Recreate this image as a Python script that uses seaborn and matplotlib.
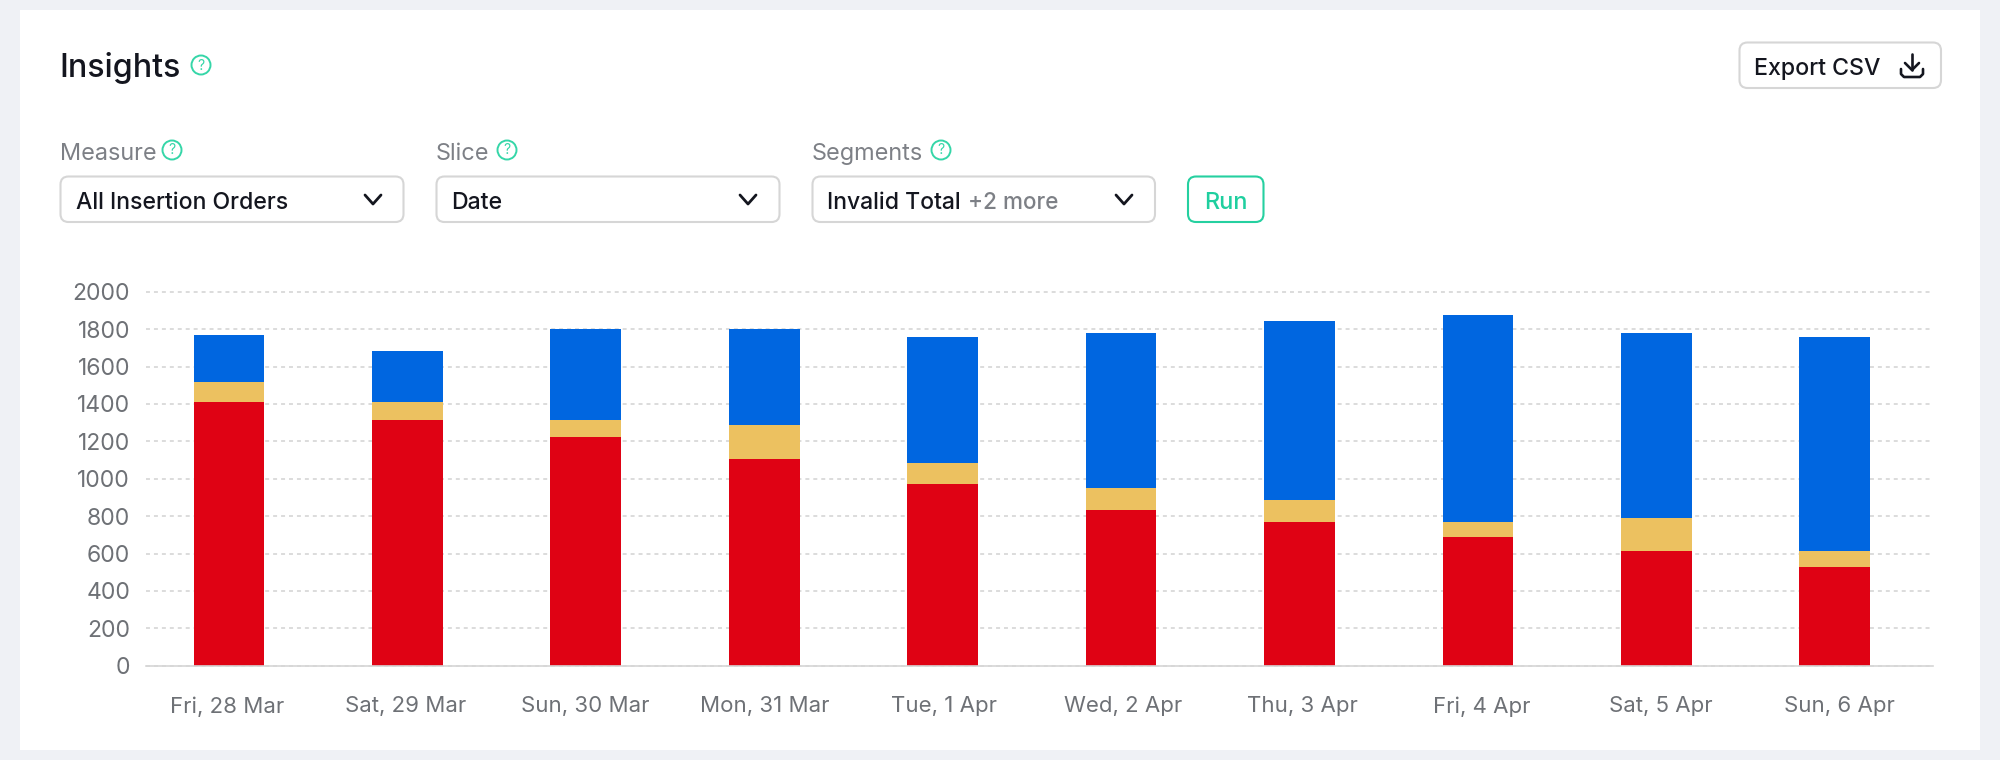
import matplotlib
matplotlib.use('Agg')
import matplotlib.pyplot as plt
from matplotlib.patches import Circle, FancyBboxPatch, Rectangle
import numpy as np
import pandas as pd
import seaborn as sns

# Values
dates = ['Fri, 28 Mar', 'Sat, 29 Mar', 'Sun, 30 Mar', 'Mon, 31 Mar', 'Tue, 1 Apr',
         'Wed, 2 Apr', 'Thu, 3 Apr', 'Fri, 4 Apr', 'Sat, 5 Apr', 'Sun, 6 Apr']
red_values = [1410, 1315, 1223, 1105, 970, 832, 770, 686, 611, 528]
yellow_values = [105, 95, 92, 180, 114, 116, 116, 84, 179, 83]
blue_values = [253, 274, 485, 515, 673, 831, 957, 1103, 989, 1146]
y_ticks = [0, 200, 400, 600, 800, 1000, 1200, 1400, 1600, 1800, 2000]

BG = '#eff1f5'
INK = '#14161f'
GREY = '#7d8086'
TICK = '#6e7176'
TEAL = '#35d6a8'
BORDER = '#d6d6d6'

sns.set_theme(style='white')
plt.rcParams['font.family'] = ['Inter', 'DejaVu Sans']

W, H = 2000, 760
fig = plt.figure(figsize=(W / 100, H / 100), dpi=100, facecolor=BG)

# -------------------------------------------------------------------
# Page furniture, drawn in pixel coordinates
ui = fig.add_axes([0, 0, 1, 1], zorder=0)
ui.set_xlim(0, W)
ui.set_ylim(H, 0)
ui.axis('off')
ui.add_patch(Rectangle((20, 10), 1960, 740, fc='white', ec='none'))


def box(x0, x1, y0, y1, color=BORDER, lw=1.5):
    ui.add_patch(FancyBboxPatch((x0, y0), x1 - x0, y1 - y0, boxstyle='round,pad=0,rounding_size=8',
                                fc='white', ec=color, lw=lw))


def help_icon(x, y):
    ui.add_patch(Circle((x, y), 9.5, fc='white', ec=TEAL, lw=1.4))
    ui.text(x, y + 0.5, '?', color=TEAL, fontsize=10, ha='center', va='center')


def chevron(x, y):
    ui.plot([x - 8, x, x + 8], [y - 4.5, y + 4.5, y - 4.5], color=INK, lw=2, solid_capstyle='round',
            solid_joinstyle='round')


ui.text(59.5, 77, 'Insights', color=INK, fontsize=23.2, fontweight='medium', va='baseline')
help_icon(201, 65)

# Export button and its download icon
box(1739.5, 1941, 42.5, 88)
ui.text(1754, 75, 'Export CSV', color=INK, fontsize=16.7, fontweight='medium', va='baseline')
ui.plot([1901, 1901, 1904, 1920, 1923, 1923], [69, 74, 77, 77, 74, 69], color=INK, lw=1.9,
        solid_capstyle='round', solid_joinstyle='round')
ui.plot([1912, 1912], [54, 70], color=INK, lw=1.9, solid_capstyle='round')
ui.plot([1905, 1912, 1919], [63, 70, 63], color=INK, lw=1.9, solid_capstyle='round', solid_joinstyle='round')

# Filters
ui.text(60, 160, 'Measure', color=GREY, fontsize=16.9, va='baseline')
help_icon(172, 150)
box(60.5, 403.5, 176.5, 222)
ui.text(75.5, 209, 'All Insertion Orders', color=INK, fontsize=16.6, fontweight='medium', va='baseline')
chevron(373, 199.5)

ui.text(436, 160, 'Slice', color=GREY, fontsize=16.9, va='baseline')
help_icon(507, 150)
box(436.5, 779.5, 176.5, 222)
ui.text(451, 209, 'Date', color=INK, fontsize=16.6, fontweight='medium', va='baseline')
chevron(748, 199.5)

ui.text(812, 160, 'Segments', color=GREY, fontsize=16.9, va='baseline')
help_icon(941, 150)
box(812.5, 1155, 176.5, 222)
ui.text(827, 209, 'Invalid Total', color=INK, fontsize=16.5, fontweight='medium', va='baseline')
ui.text(968, 209, '+2 more', color=GREY, fontsize=16.2, fontweight='medium', va='baseline')
chevron(1124, 199.5)

box(1188, 1263.5, 176.5, 222, color='#25d0a0')
ui.text(1225.5, 209, 'Run', color='#1fcf9f', fontsize=16.9, fontweight='medium', ha='center', va='baseline')

# -------------------------------------------------------------------
# Stacked bars
df = pd.DataFrame({'date': dates, 'red': red_values, 'yellow': yellow_values, 'blue': blue_values})

ax = fig.add_axes([146.3 / W, 1 - 665.7 / H, 1787 / W, 374 / H], zorder=1)
ax.patch.set_alpha(0)
sns.barplot(data=df, x='date', y='red', color='#df0214', saturation=1, width=0.396, linewidth=0, ax=ax)
sns.barplot(data=df, x='date', y='yellow', bottom=df['red'], color='#ecc160', saturation=1, width=0.396,
            linewidth=0, ax=ax)
sns.barplot(data=df, x='date', y='blue', bottom=df['red'] + df['yellow'], color='#0066e0', saturation=1,
            width=0.396, linewidth=0, ax=ax)

ax.set_xlim(-0.4636, 9.553)
ax.set_ylim(0, 2000)
ax.set_xlabel('')
ax.set_ylabel('')
ax.set_yticks(y_ticks)
# labels run on a slightly wider step than the bars in the reference
ax.set_xticks(np.arange(len(dates)) * 1.0045 - 0.012, labels=dates)
ax.tick_params(axis='x', length=0, pad=22, labelsize=16, labelcolor=TICK)
ax.tick_params(axis='y', length=0, pad=11.7, labelsize=16.5, labelcolor=TICK)

ax.set_axisbelow(True)
ax.grid(axis='y', color='#d2d2d2', lw=1.1, linestyle=(0, (2.6, 2.6)), clip_on=False)
sns.despine(ax=ax, left=True)
ax.spines['bottom'].set_color('#d6d6d6')
ax.spines['bottom'].set_linewidth(1.2)

fig.savefig('out.png', dpi=100, facecolor=BG)
